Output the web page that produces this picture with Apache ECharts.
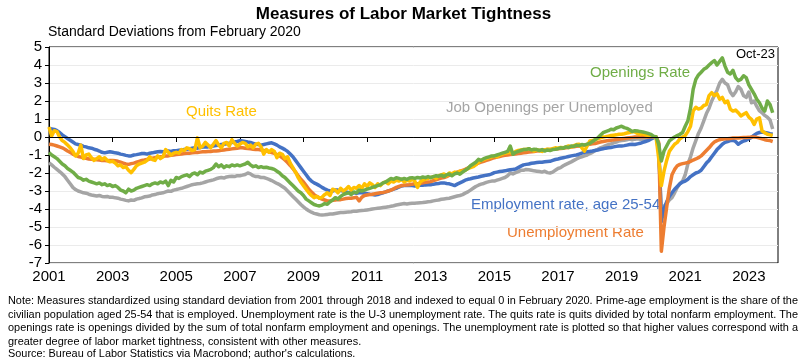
<!DOCTYPE html>
<html>
<head>
<meta charset="utf-8">
<script src="https://cdn.jsdelivr.net/npm/echarts@6/dist/echarts.min.js"></script>
<style>
html,body{margin:0;padding:0;background:#fff;}
#wrap{position:relative;width:807px;height:359px;overflow:hidden;}
#chart{position:absolute;left:0;top:0;width:807px;height:359px;}
#note{position:absolute;left:8px;top:294px;width:790px;font-family:"Liberation Sans Narrow","Arial Narrow","Liberation Sans",Arial,sans-serif;font-size:11.5px;line-height:13.5px;color:#000;}
#note div{white-space:nowrap;height:13.5px;}
#note div.s{height:12px;}
#note span{display:inline-block;white-space:nowrap;transform-origin:0 0;}
</style>
</head>
<body>
<div id="wrap">
<div id="chart"></div>
<div id="note">
<div class="j"><span>Note: Measures standardized using standard deviation from 2001 through 2018 and indexed to equal 0 in February 2020. Prime-age employment is the share of the</span></div>
<div class="j"><span>civilian population aged 25-54 that is employed. Unemployment rate is the U-3 unemployment rate. The quits rate is quits divided by total nonfarm employment. The</span></div>
<div class="j"><span>openings rate is openings divided by the sum of total nonfarm employment and openings. The unemployment rate is plotted so that higher values correspond with a</span></div>
<div class="s"><span>greater degree of labor market tightness, consistent with other measures.</span></div>
<div><span>Source: Bureau of Labor Statistics via Macrobond; author's calculations.</span></div>
</div>
</div>
<script>
// Monthly, Jan 2001 .. Oct 2023
const employmentRate = [
0.48,0.45,0.42,0.35,0.25,0.12,0.02,-0.08,-0.18,-0.28,-0.38,-0.42,
-0.45,-0.52,-0.55,-0.60,-0.62,-0.68,-0.72,-0.78,-0.85,-0.88,-0.85,-0.82,
-0.85,-0.88,-0.90,-0.95,-0.98,-1.02,-1.05,-1.05,-1.00,-0.98,-0.95,-0.92,
-0.92,-0.95,-0.90,-0.88,-0.85,-0.82,-0.80,-0.82,-0.80,-0.78,-0.80,-0.76,
-0.76,-0.74,-0.72,-0.70,-0.68,-0.66,-0.62,-0.60,-0.62,-0.58,-0.56,-0.55,
-0.55,-0.52,-0.50,-0.48,-0.46,-0.42,-0.40,-0.38,-0.35,-0.30,-0.28,-0.25,
-0.20,-0.22,-0.25,-0.28,-0.30,-0.35,-0.40,-0.42,-0.45,-0.42,-0.38,-0.35,
-0.32,-0.38,-0.45,-0.55,-0.62,-0.70,-0.80,-0.95,-1.10,-1.30,-1.50,-1.70,
-1.90,-2.10,-2.30,-2.45,-2.55,-2.62,-2.70,-2.80,-2.88,-2.95,-3.00,-3.00,
-2.95,-2.95,-2.98,-3.00,-3.05,-3.08,-3.10,-3.10,-3.12,-3.10,-3.10,-3.12,
-3.15,-3.18,-3.20,-3.22,-3.20,-3.15,-3.10,-3.05,-3.00,-2.95,-2.90,-2.85,
-2.78,-2.72,-2.70,-2.70,-2.68,-2.70,-2.72,-2.70,-2.68,-2.68,-2.66,-2.65,
-2.65,-2.62,-2.60,-2.58,-2.55,-2.55,-2.58,-2.60,-2.65,-2.70,-2.62,-2.55,
-2.48,-2.40,-2.35,-2.32,-2.28,-2.25,-2.22,-2.18,-2.15,-2.12,-2.10,-2.05,
-1.98,-1.95,-1.92,-1.90,-1.88,-1.85,-1.82,-1.80,-1.78,-1.70,-1.62,-1.55,
-1.52,-1.50,-1.46,-1.44,-1.42,-1.40,-1.40,-1.38,-1.36,-1.35,-1.30,-1.25,
-1.22,-1.18,-1.15,-1.12,-1.08,-1.05,-1.02,-1.00,-0.95,-0.90,-0.85,-0.82,
-0.80,-0.78,-0.75,-0.72,-0.68,-0.65,-0.62,-0.60,-0.58,-0.55,-0.52,-0.50,
-0.50,-0.48,-0.45,-0.42,-0.40,-0.42,-0.38,-0.35,-0.30,-0.25,-0.20,-0.12,
-0.05,0.00,-0.40,-4.70,-4.00,-3.60,-3.30,-3.10,-2.90,-2.75,-2.60,-2.50,
-2.45,-2.35,-2.20,-2.10,-2.00,-1.95,-1.85,-1.65,-1.45,-1.30,-1.10,-0.90,
-0.70,-0.55,-0.40,-0.30,-0.25,-0.20,-0.18,-0.25,-0.40,-0.30,-0.22,-0.18,
-0.10,-0.02,0.10,0.20,0.25,0.28,0.25,0.22,0.18,0.15
];
const unemploymentRate = [
-0.40,-0.42,-0.45,-0.50,-0.55,-0.60,-0.68,-0.78,-0.85,-0.95,-1.02,-1.08,
-1.12,-1.15,-1.18,-1.22,-1.24,-1.24,-1.26,-1.28,-1.30,-1.30,-1.32,-1.30,
-1.30,-1.32,-1.35,-1.40,-1.45,-1.50,-1.52,-1.48,-1.45,-1.40,-1.35,-1.30,
-1.28,-1.25,-1.22,-1.18,-1.15,-1.12,-1.10,-1.08,-1.05,-1.05,-1.02,-1.00,
-0.98,-0.96,-0.95,-0.92,-0.90,-0.90,-0.88,-0.86,-0.86,-0.84,-0.82,-0.82,
-0.80,-0.80,-0.78,-0.78,-0.76,-0.74,-0.72,-0.70,-0.68,-0.66,-0.64,-0.62,
-0.60,-0.60,-0.62,-0.64,-0.66,-0.68,-0.70,-0.70,-0.72,-0.75,-0.78,-0.82,
-0.86,-0.90,-0.98,-1.05,-1.15,-1.28,-1.42,-1.58,-1.75,-1.95,-2.15,-2.35,
-2.50,-2.70,-2.90,-3.05,-3.20,-3.30,-3.38,-3.45,-3.50,-3.55,-3.55,-3.52,
-3.50,-3.48,-3.48,-3.45,-3.42,-3.40,-3.40,-3.38,-3.35,-3.55,-3.35,-3.25,
-3.22,-3.20,-3.18,-3.15,-3.12,-3.10,-3.08,-3.05,-3.00,-2.95,-2.88,-2.80,
-2.75,-2.70,-2.68,-2.66,-2.65,-2.62,-2.60,-2.60,-2.58,-2.55,-2.52,-2.50,
-2.48,-2.42,-2.38,-2.32,-2.28,-2.25,-2.20,-2.12,-2.05,-2.00,-1.95,-1.90,
-1.85,-1.80,-1.72,-1.65,-1.58,-1.50,-1.45,-1.40,-1.35,-1.30,-1.25,-1.20,
-1.15,-1.12,-1.08,-1.05,-1.02,-1.00,-0.98,-0.96,-0.94,-0.92,-0.90,-0.88,
-0.86,-0.84,-0.82,-0.80,-0.78,-0.76,-0.74,-0.72,-0.70,-0.70,-0.68,-0.66,
-0.65,-0.64,-0.62,-0.60,-0.58,-0.56,-0.54,-0.52,-0.50,-0.46,-0.44,-0.42,
-0.40,-0.38,-0.36,-0.32,-0.28,-0.25,-0.22,-0.20,-0.18,-0.16,-0.14,-0.12,
-0.10,-0.08,-0.06,-0.04,-0.02,0.00,0.00,0.02,0.02,0.02,0.00,0.02,
0.02,0.00,-0.30,-6.35,-5.00,-3.90,-2.85,-2.10,-1.80,-1.60,-1.52,-1.48,
-1.45,-1.42,-1.35,-1.28,-1.22,-1.15,-1.05,-0.90,-0.75,-0.60,-0.42,-0.28,
-0.20,-0.15,-0.12,-0.10,-0.10,-0.08,-0.06,-0.05,-0.05,-0.04,-0.03,-0.03,
-0.02,0.00,0.00,-0.02,-0.06,-0.10,-0.15,-0.18,-0.20,-0.25
];
const openingsPerUnemployed = [
-1.43,-1.55,-1.68,-1.80,-1.92,-2.05,-2.20,-2.40,-2.60,-2.80,-2.92,-3.00,
-3.05,-3.10,-3.12,-3.18,-3.22,-3.25,-3.28,-3.25,-3.30,-3.32,-3.30,-3.35,
-3.35,-3.38,-3.40,-3.45,-3.48,-3.52,-3.55,-3.50,-3.52,-3.45,-3.42,-3.38,
-3.32,-3.30,-3.28,-3.22,-3.20,-3.15,-3.12,-3.10,-3.05,-3.00,-3.02,-2.95,
-2.92,-2.88,-2.85,-2.80,-2.75,-2.70,-2.65,-2.62,-2.60,-2.58,-2.55,-2.50,
-2.45,-2.42,-2.38,-2.32,-2.28,-2.25,-2.28,-2.22,-2.20,-2.18,-2.20,-2.15,
-2.15,-2.12,-2.08,-2.00,-2.05,-2.15,-2.20,-2.20,-2.25,-2.25,-2.30,-2.35,
-2.42,-2.50,-2.58,-2.65,-2.75,-2.85,-3.00,-3.15,-3.30,-3.45,-3.60,-3.75,
-3.88,-4.00,-4.10,-4.18,-4.24,-4.28,-4.32,-4.33,-4.32,-4.30,-4.28,-4.28,
-4.25,-4.22,-4.20,-4.20,-4.18,-4.16,-4.15,-4.12,-4.12,-4.10,-4.08,-4.07,
-4.05,-4.03,-4.00,-3.98,-3.96,-3.94,-3.92,-3.90,-3.88,-3.85,-3.82,-3.78,
-3.75,-3.72,-3.70,-3.72,-3.70,-3.68,-3.68,-3.66,-3.65,-3.64,-3.62,-3.60,
-3.58,-3.55,-3.52,-3.50,-3.46,-3.44,-3.42,-3.40,-3.36,-3.32,-3.28,-3.25,
-3.20,-3.12,-3.05,-2.95,-2.85,-2.75,-2.68,-2.62,-2.58,-2.52,-2.48,-2.45,
-2.45,-2.40,-2.35,-2.30,-2.25,-2.15,-2.00,-2.05,-1.98,-1.92,-1.85,-1.85,
-1.80,-1.82,-1.85,-1.88,-1.90,-1.92,-1.95,-1.90,-1.98,-2.00,-1.95,-1.85,
-1.75,-1.70,-1.60,-1.52,-1.45,-1.38,-1.30,-1.22,-1.15,-1.10,-1.05,-1.00,
-0.92,-0.85,-0.75,-0.68,-0.60,-0.55,-0.48,-0.42,-0.38,-0.32,-0.28,-0.22,
-0.20,-0.18,-0.15,-0.12,-0.15,-0.12,-0.10,-0.12,-0.14,-0.10,-0.08,-0.05,
-0.02,0.00,-0.80,-4.10,-3.85,-3.70,-3.50,-3.37,-3.10,-2.80,-2.60,-2.45,
-2.10,-1.50,-1.10,-0.60,-0.20,0.20,0.50,0.90,1.30,1.60,2.00,2.30,
2.60,3.00,3.20,3.00,2.90,2.50,2.30,2.50,2.80,2.65,2.30,2.20,
2.50,1.90,2.00,1.70,1.45,1.35,1.20,1.10,0.95,0.45
];
const quitsRate = [
0.55,0.05,0.35,0.30,0.00,-0.20,-0.30,-0.45,-0.60,-0.80,-1.05,-0.90,
-0.45,-1.20,-1.00,-0.95,-1.15,-1.30,-1.20,-1.10,-1.25,-1.15,-1.30,-1.38,
-1.35,-1.45,-1.60,-1.55,-1.70,-1.65,-1.85,-1.98,-1.80,-1.60,-1.50,-1.45,
-1.40,-1.30,-1.10,-1.25,-1.30,-1.05,-1.20,-1.10,-0.70,-0.85,-1.00,-0.90,
-0.85,-0.90,-0.70,-0.75,-0.60,-0.65,-0.75,-0.70,-0.05,-0.60,-0.50,-0.30,
-0.45,-0.60,-0.40,-0.20,-0.45,-0.60,-0.35,-0.30,-0.50,-0.15,-0.35,-0.50,
-0.40,-0.30,-0.35,-0.55,-0.45,-0.60,-0.40,-0.35,-0.55,-0.95,-0.70,-0.85,
-0.70,-0.80,-1.15,-0.90,-0.96,-1.20,-1.10,-1.45,-1.70,-1.95,-2.26,-2.50,
-2.70,-2.90,-3.10,-3.25,-3.37,-3.30,-3.40,-3.35,-3.20,-3.10,-3.25,-2.90,
-2.95,-3.10,-2.85,-3.00,-2.90,-2.75,-2.95,-2.80,-2.85,-2.70,-2.85,-2.60,
-2.75,-2.55,-2.65,-2.80,-2.60,-2.70,-2.55,-2.50,-2.60,-2.45,-2.50,-2.40,
-2.45,-2.35,-2.50,-2.40,-2.45,-2.35,-2.45,-2.80,-2.50,-2.40,-2.35,-2.30,
-2.26,-2.20,-2.30,-2.15,-2.10,-2.05,-2.15,-2.00,-2.05,-1.95,-1.98,-1.90,
-1.90,-1.85,-1.75,-1.70,-1.65,-1.55,-1.40,-1.30,-1.25,-1.20,-1.15,-1.10,
-1.05,-1.10,-1.00,-0.95,-0.90,-0.88,-0.85,-0.90,-0.80,-0.75,-0.72,-0.70,
-0.70,-0.65,-0.72,-0.78,-0.70,-0.75,-0.80,-0.72,-0.68,-0.70,-0.65,-0.60,
-0.62,-0.58,-0.60,-0.55,-0.50,-0.55,-0.48,-0.42,-0.40,-0.60,-0.78,-0.50,
-0.22,-0.20,-0.15,-0.10,-0.05,0.00,0.02,0.05,0.08,0.10,0.12,0.15,
0.15,0.18,0.22,0.25,0.30,0.28,0.20,0.15,0.18,0.12,0.08,0.05,
0.02,0.00,-1.20,-2.70,-1.90,-1.30,-0.80,-0.60,-0.40,-0.30,-0.10,0.00,
0.08,0.30,0.60,1.44,1.65,1.55,1.60,1.75,1.80,2.30,2.46,2.30,
2.40,2.10,2.20,1.90,2.00,1.55,1.44,1.50,1.35,1.17,1.26,1.35,
1.10,0.98,0.70,1.00,1.07,0.33,0.24,0.15,0.12,0.08
];
const openingsRate = [
-0.87,-1.00,-1.10,-1.20,-1.35,-1.50,-1.60,-1.75,-1.85,-1.95,-2.10,-2.25,
-2.30,-2.40,-2.35,-2.45,-2.50,-2.55,-2.60,-2.55,-2.65,-2.60,-2.70,-2.65,
-2.75,-2.70,-2.80,-2.95,-3.00,-3.10,-2.90,-3.00,-2.95,-2.85,-2.80,-2.75,
-2.70,-2.65,-2.70,-2.60,-2.55,-2.60,-2.50,-2.55,-2.45,-2.70,-2.40,-2.50,
-2.25,-2.30,-2.20,-2.15,-2.10,-2.20,-2.05,-2.00,-2.10,-1.95,-2.00,-1.90,
-1.85,-1.80,-1.70,-1.50,-1.65,-1.55,-1.70,-1.60,-1.65,-1.55,-1.60,-1.55,
-1.60,-1.55,-1.50,-1.40,-1.55,-1.65,-1.60,-1.70,-1.65,-1.70,-1.68,-1.72,
-1.75,-1.80,-1.90,-2.00,-2.15,-2.25,-2.40,-2.55,-2.70,-2.85,-3.00,-3.10,
-3.25,-3.45,-3.55,-3.65,-3.75,-3.80,-3.83,-3.78,-3.70,-3.74,-3.60,-3.50,
-3.37,-3.45,-3.30,-3.20,-3.15,-3.10,-3.20,-3.05,-3.10,-2.95,-3.00,-2.95,
-2.90,-2.85,-2.80,-2.75,-2.70,-2.65,-2.55,-2.50,-2.40,-2.30,-2.35,-2.26,
-2.30,-2.35,-2.30,-2.35,-2.28,-2.26,-2.30,-2.25,-2.28,-2.22,-2.26,-2.20,
-2.26,-2.20,-2.15,-2.18,-2.12,-2.20,-2.10,-2.05,-2.15,-2.05,-2.00,-2.07,
-1.95,-1.85,-1.75,-1.60,-1.50,-1.40,-1.24,-1.30,-1.20,-1.15,-1.10,-1.05,
-1.05,-1.00,-0.95,-0.90,-0.85,-0.80,-0.50,-0.96,-0.85,-0.80,-0.75,-0.70,
-0.70,-0.65,-0.72,-0.68,-0.70,-0.75,-0.70,-0.78,-0.72,-0.75,-0.70,-0.68,
-0.65,-0.60,-0.62,-0.55,-0.58,-0.50,-0.52,-0.45,-0.48,-0.42,-0.45,-0.40,
-0.35,-0.25,-0.15,-0.05,0.10,0.24,0.30,0.35,0.43,0.40,0.50,0.55,
0.60,0.52,0.48,0.40,0.30,0.35,0.33,0.30,0.28,0.24,0.20,0.15,
0.05,0.00,-0.40,-1.33,-0.78,-0.50,-0.22,-0.10,0.00,0.08,0.15,0.25,
0.60,0.90,1.60,2.65,3.20,3.45,3.60,3.76,3.85,4.00,4.13,4.25,
4.00,4.20,4.40,3.94,3.60,3.50,3.70,3.30,3.13,3.20,3.40,3.30,
2.90,2.65,2.40,2.10,1.90,1.60,1.44,2.00,1.80,1.35
];
const yTicks = [-7,-6,-5,-4,-3,-2,-1,0,1,2,3,4,5];

const months = [];
for (let y = 2001; y <= 2023; y++) for (let m = 1; m <= 12; m++) months.push(y + '-' + (m < 10 ? '0' + m : m));

// condense footnote lines to fit the note width (narrow face)
(function () {
  const rows = document.querySelectorAll('#note div');
  const target = 790;
  let k = 1;
  rows.forEach((r, i) => {
    const s = r.querySelector('span');
    const w = s.getBoundingClientRect().width;
    if (r.classList.contains('j')) { const f = target / w; if (i === 0) k = f; s.style.transform = 'scaleX(' + f + ')'; }
    else s.style.transform = 'scaleX(' + k + ')';
  });
})();

const FONT = '"Liberation Sans", Arial, sans-serif';
const chart = echarts.init(document.getElementById('chart'), null, {renderer: 'canvas'});
const isYearTick = (i) => i % 24 === 0;
function line(name, data, color) {
  return {name, type: 'line', data, showSymbol: false, symbol: 'none', smooth: false,
    lineStyle: {color, width: 3.5, join: 'round'}, itemStyle: {color}, animation: false};
}
const series = [
  line('Job Openings per Unemployed', openingsPerUnemployed, '#A5A5A5'),
  line('Employment rate, age 25-54', employmentRate, '#4472C4'),
  line('Unemployment Rate', unemploymentRate, '#ED7D31'),
  line('Quits Rate', quitsRate, '#FFC000'),
  line('Openings Rate', openingsRate, '#70AD47')
];
series[0].markLine = {silent: true, symbol: 'none', label: {show: false},
  lineStyle: {color: '#000', width: 1, type: 'solid'}, data: [{yAxis: 0}], animation: false};

chart.setOption({
  animation: false,
  backgroundColor: '#fff',
  textStyle: {fontFamily: FONT},
  grid: {left: 49, right: 29, top: 47, bottom: 96, show: true, borderColor: '#000', borderWidth: 1, backgroundColor: 'transparent'},
  xAxis: {type: 'category', data: months, boundaryGap: false,
    axisLine: {lineStyle: {color: '#000', width: 1}},
    axisTick: {show: true, interval: (i) => isYearTick(i), length: 5, lineStyle: {color: '#000'}},
    axisLabel: {interval: (i) => isYearTick(i), formatter: (v) => v.slice(0, 4), color: '#000', fontSize: 15, margin: 6, fontFamily: FONT},
    splitLine: {show: false}},
  yAxis: {type: 'value', min: yTicks[0], max: yTicks[yTicks.length - 1], interval: 1,
    axisLine: {show: true, lineStyle: {color: '#000', width: 1}},
    axisTick: {show: true, length: 4, lineStyle: {color: '#000'}},
    axisLabel: {color: '#000', fontSize: 15, margin: 7, fontFamily: FONT},
    splitLine: {show: true, lineStyle: {color: '#EBEBEB', width: 1}}},
  graphic: [
    {type: 'text', left: 'center', top: 6, style: {text: 'Measures of Labor Market Tightness', font: 'bold 17px ' + FONT, fill: '#000'}},
    {type: 'text', left: 48, top: 25, style: {text: 'Standard Deviations from February 2020', font: '14px ' + FONT, fill: '#000'}},
    {type: 'text', right: 32, top: 48, style: {text: 'Oct-23', font: '13px ' + FONT, fill: '#000'}},
    {type: 'text', left: 186, top: 104, style: {text: 'Quits Rate', font: '15px ' + FONT, fill: '#FFC000'}},
    {type: 'text', left: 590, top: 65, style: {text: 'Openings Rate', font: '15px ' + FONT, fill: '#70AD47'}},
    {type: 'text', left: 446, top: 100, style: {text: 'Job Openings per Unemployed', font: '15px ' + FONT, fill: '#A5A5A5'}},
    {type: 'text', left: 471, top: 197, style: {text: 'Employment rate, age 25-54', font: '15px ' + FONT, fill: '#4472C4'}},
    {type: 'text', left: 507, top: 225, style: {text: 'Unemployment Rate', font: '15px ' + FONT, fill: '#ED7D31'}}
  ],
  series
});
</script>
</body>
</html>
